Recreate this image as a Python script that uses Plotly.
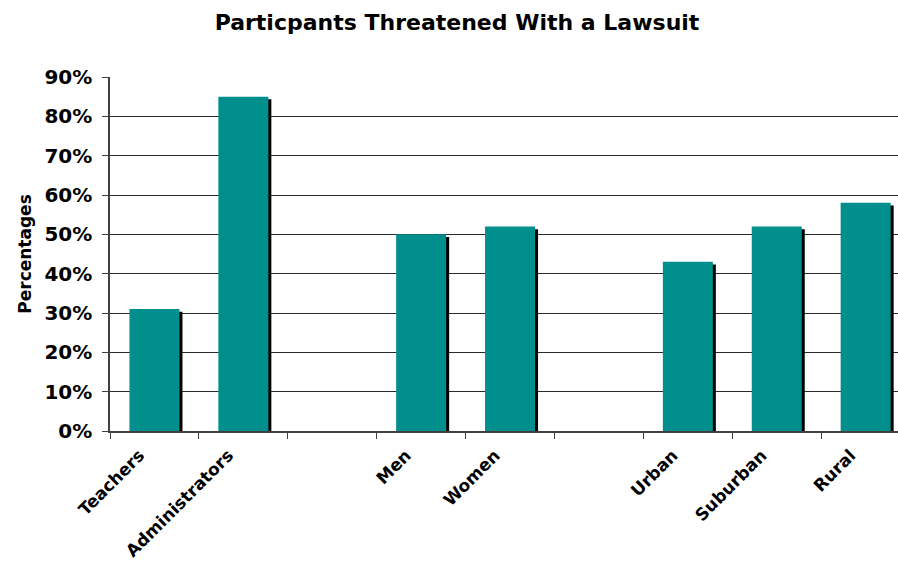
import plotly.graph_objects as go

# Share of participants threatened with a lawsuit, by group
categories = ["Teachers", "Administrators", " ", "Men", "Women", "  ", "Urban", "Suburban", "Rural"]
percentages = [31, 85, None, 50, 52, None, 43, 52, 58]
y_ticks = [0, 10, 20, 30, 40, 50, 60, 70, 80, 90]
y_tick_labels = [f"{v}%" for v in y_ticks]

W, H = 898, 565
M_L, M_T, M_B, M_R = 110, 77, 134, 0
CAT_PX = 88.9                      # width of one category slot in pixels
plot_w = W - M_L - M_R
plot_h = H - M_T - M_B
x_max = -0.5 + plot_w / CAT_PX     # last category runs past the right edge
px_per_pct = plot_h / 90.0

bar_w = 50 / CAT_PX
bar_off = -bar_w / 2
shadow_dx = 3 / CAT_PX
shadow_dy = 2.7 / px_per_pct

TEAL = "#008F8C"
FONT = "DejaVu Sans"

shadow_vals = [None if v is None else v - shadow_dy for v in percentages]

fig = go.Figure()
fig.add_trace(go.Bar(
    x=categories, y=shadow_vals, width=bar_w, offset=bar_off + shadow_dx,
    marker=dict(color="black", line=dict(width=0)), hoverinfo="skip", showlegend=False,
))
fig.add_trace(go.Bar(
    x=categories, y=percentages, width=bar_w, offset=bar_off,
    marker=dict(color=TEAL, line=dict(width=0)), showlegend=False,
))

fig.update_layout(
    width=W, height=H,
    margin=dict(l=M_L, r=M_R, t=M_T, b=M_B, pad=0),
    paper_bgcolor="white", plot_bgcolor="white",
    barmode="overlay",
    font=dict(family=FONT, color="black"),
    title=dict(
        text="<b>Particpants Threatened With a Lawsuit</b>",
        font=dict(family=FONT, size=22, color="black"),
        x=457 / W, xref="container", xanchor="center",
        y=1 - 22 / H, yref="container", yanchor="middle",
    ),
    xaxis=dict(
        type="category", categoryorder="array", categoryarray=categories,
        range=[-0.5, x_max], automargin=False,
        tickson="boundaries", ticks="outside", ticklen=6, tickcolor="#404040",
        tickangle=-45,
        tickfont=dict(family=FONT, size=17, color="black", weight="bold"),
        ticklabelshift=-15, ticklabelstandoff=6,
        showline=True, linecolor="#404040", linewidth=1.5,
        showgrid=False, zeroline=False,
    ),
    yaxis=dict(
        range=[0, 90], tickmode="array", tickvals=y_ticks, ticktext=y_tick_labels,
        automargin=False,
        ticks="outside", ticklen=6, tickcolor="#404040",
        tickfont=dict(family=FONT, size=20, color="black", weight="bold"),
        ticklabelstandoff=6,
        showline=True, linecolor="#404040", linewidth=1.5,
        showgrid=True, gridcolor="#2a2a2a", gridwidth=1.4,
        zeroline=False,
        title=dict(text="<b>Percentages</b>", font=dict(family=FONT, size=17, color="black"),
                   standoff=8),
    ),
)

fig.write_html("out.html")
